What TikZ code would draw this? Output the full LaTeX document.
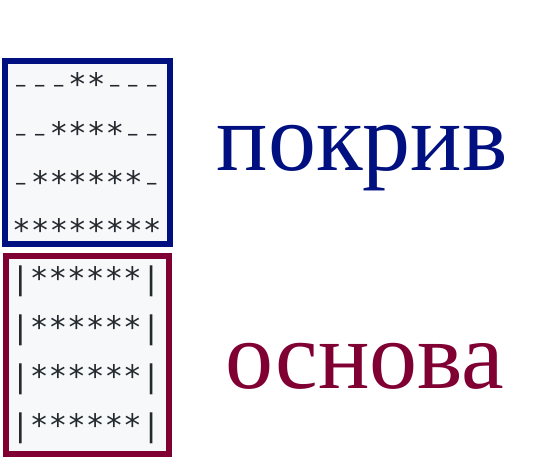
\documentclass[tikz,border=0pt]{standalone}
\usepackage{fontspec}
\setmainfont{Liberation Serif}
\newfontfamily\codefont{DejaVu Sans Mono}
\usepackage{graphicx}
\definecolor{roofcol}{RGB}{0,16,128}
\definecolor{basecol}{RGB}{128,0,51}
\definecolor{codebg}{RGB}{246,248,250}
\definecolor{codefg}{RGB}{36,41,46}
\newcommand\usc{\makebox[0.602em][c]{\raisebox{0.6em}{\scalebox{0.5}[1.3]{\_}}}}
\tikzset{
  codebox/.style={line width=6pt, fill=codebg},
  coderow/.style={anchor=base west, inner sep=0pt, text=codefg, font=\codefont\fontsize{31}{31}\selectfont},
  bigword/.style={anchor=base, inner sep=0pt, font=\fontsize{96}{100}\selectfont}
}
\begin{document}
\begin{tikzpicture}[x=1pt,y=-1pt]
\useasboundingbox[fill=white] (0,0) rectangle (550,465);
\draw[codebox, draw=roofcol] (5,61) rectangle (170,244);
\draw[codebox, draw=basecol] (6,256) rectangle (169,454);
\node[coderow] (r1) at (12,96) {\usc\usc\usc**\usc\usc\usc};
\node[coderow] (r2) at (12,145) {\usc\usc****\usc\usc};
\node[coderow] (r3) at (12,194) {\usc******\usc};
\node[coderow] (r4) at (12,242) {********};
\node[coderow] (b1) at (11,290) {|******|};
\node[coderow] (b2) at (11,339) {|******|};
\node[coderow] (b3) at (11,388) {|******|};
\node[coderow] (b4) at (11,437) {|******|};
\node[bigword, text=roofcol] (roof) at (362,171) {покрив};
\node[bigword, text=basecol] (base) at (365,389) {основа};
\end{tikzpicture}
\end{document}
